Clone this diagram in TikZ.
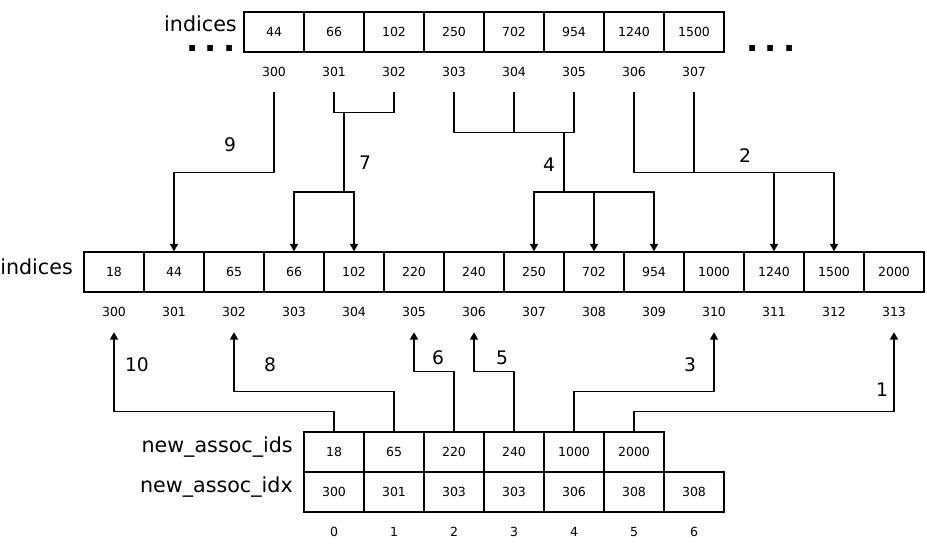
\documentclass[tikz,border=0pt]{standalone}
\usepackage{fontspec}
\setmainfont{DejaVu Sans}
\usetikzlibrary{arrows.meta,positioning}

\tikzset{
  wire/.style={line width=1.1pt},
  arr/.style={wire, -{Triangle[length=5.5pt,width=6pt]}},
  cell/.style={draw, line width=1.1pt, minimum width=45pt, minimum height=30pt, inner sep=0pt, font=\fontsize{9.4}{11}\selectfont},
  idxlbl/.style={minimum width=45pt, minimum height=30pt, inner sep=0pt, font=\fontsize{9.4}{11}\selectfont},
  lbl/.style={inner sep=0pt, font=\fontsize{15.5}{18}\selectfont},
  num/.style={inner sep=0pt, font=\fontsize{14}{17}\selectfont},
  dotsbox/.style={inner sep=0pt, text height=5pt, text depth=0pt, font=\fontsize{24}{24}\bfseries\selectfont}
}

\begin{document}
\begin{tikzpicture}[x=0.75pt, y=-0.75pt]
  \useasboundingbox (0,0) rectangle (927,555);

  % top array
  \foreach \v [count=\i from 0] in {44,66,102,250,702,954,1240,1500} {
    \node[cell] (t\i) at ({274+60*\i},32) {\v};
    \node[idxlbl] (ti\i) at ({274+60*\i},72) {\the\numexpr300+\i\relax};
  }
  \node[lbl, anchor=east] (tlbl) at (237,24) {indices};
  \node[dotsbox, anchor=base] (dl) at (211,52) {.\kern4.5pt.\kern4.5pt.};
  \node[dotsbox, anchor=base] (dr) at (771,52) {.\kern4.5pt.\kern4.5pt.};

  % middle array
  \foreach \v [count=\i from 0] in {18,44,65,66,102,220,240,250,702,954,1000,1240,1500,2000} {
    \node[cell] (m\i) at ({114+60*\i},272) {\v};
    \node[idxlbl] (mi\i) at ({114+60*\i},312) {\the\numexpr300+\i\relax};
  }
  \node[lbl, anchor=west] (mlbl) at (0,267) {indices};

  % new assoc arrays
  \foreach \v [count=\i from 0] in {18,65,220,240,1000,2000}
    \node[cell] (a\i) at ({334+60*\i},452) {\v};
  \foreach \v [count=\i from 0] in {300,301,303,303,306,308,308} {
    \node[cell] (b\i) at ({334+60*\i},492) {\v};
    \node[idxlbl] (bi\i) at ({334+60*\i},532) {\i};
  }
  \node[lbl, anchor=east] (albl) at (293,447) {new\_assoc\_ids};
  \node[lbl, anchor=east] (blbl) at (293,487) {new\_assoc\_idx};

  % top -> middle
  \draw[arr] (ti0.south) -- ++(0,80) -| (m1.north);
  \node[num] (l9) at (230,145) {9};

  \draw[wire] (ti1.south) -- ++(0,20) -| (ti2.south);
  \coordinate (j7) at (344,112);
  \draw[arr] (j7) -- ++(0,80) coordinate (k7) -| (m4.north);
  \draw[arr] (k7) -| (m3.north);
  \node[num] (l7) at (365,163) {7};

  \draw[wire] (ti3.south) -- ++(0,40) -| (ti5.south);
  \draw[wire] (ti4.south) -- ++(0,40);
  \coordinate (j4) at (564,132);
  \draw[wire] (j4) -- ++(0,60) coordinate (k4);
  \draw[arr] (k4) -| (m7.north);
  \draw[arr] (k4) -| (m9.north);
  \draw[arr] (k4 -| m8.north) -- (m8.north);
  \node[num] (l4) at (549,165) {4};

  \draw[arr] (ti6.south) -- ++(0,80) coordinate (k2) -| (m12.north);
  \draw[wire] (ti7.south) -- (ti7.south |- k2);
  \draw[arr] (k2 -| m11.north) -- (m11.north);
  \node[num] (l2) at (745,156) {2};

  % bottom -> middle
  \draw[arr] (a0.north) -- ++(0,-20) -| (mi0.south);
  \draw[arr] (a1.north) -- ++(0,-40) -| (mi2.south);
  \draw[arr] (a2.north) -- ++(0,-60) -| (mi5.south);
  \draw[arr] (a3.north) -- ++(0,-60) -| (mi6.south);
  \draw[arr] (a4.north) -- ++(0,-40) -| (mi10.south);
  \draw[arr] (a5.north) -- ++(0,-20) -| (mi13.south);
  \node[num] (l10) at (137,365) {10};
  \node[num] (l8) at (270,365) {8};
  \node[num] (l6) at (438,358) {6};
  \node[num] (l5) at (502,358) {5};
  \node[num] (l3) at (690,365) {3};
  \node[num] (l1) at (882,390) {1};
\end{tikzpicture}
\end{document}
